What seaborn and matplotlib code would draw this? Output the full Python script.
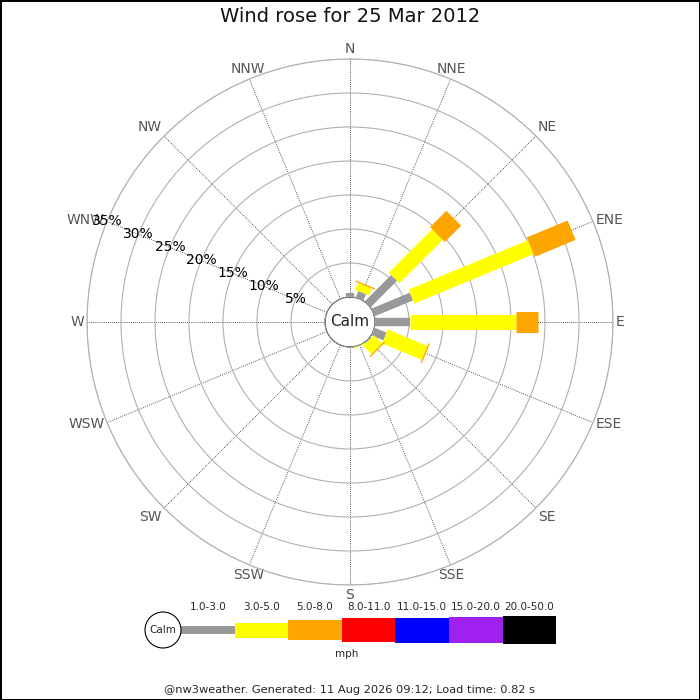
import numpy as np
import pandas as pd
import matplotlib
matplotlib.use('Agg')
import matplotlib.pyplot as plt
from matplotlib.patches import Circle
import seaborn as sns

# 16 compass points, clockwise from north
directions = ['N', 'NNE', 'NE', 'ENE', 'E', 'ESE', 'SE', 'SSE',
              'S', 'SSW', 'SW', 'WSW', 'W', 'WNW', 'NW', 'NNW']
speed_bins = ['1.0-3.0', '3.0-5.0', '5.0-8.0', '8.0-11.0',
              '11.0-15.0', '15.0-20.0', '20.0-50.0']
bin_colors = ['#999999', '#ffff00', '#ffa500', '#ff0000',
              '#0000ff', '#a020f0', '#000000']

# % of time per direction for each speed band
pct_1_3 = [0.6, 1.0, 5.5, 6.1, 5.2, 1.9, 0.2, 0, 0, 0, 0, 0, 0, 0, 0, 0]
pct_3_5 = [0, 1.1, 9.0, 19.0, 15.6, 6.3, 1.7, 0.15, 0, 0, 0, 0, 0, 0, 0, 0]
pct_5_8 = [0, 0.2, 3.4, 6.5, 3.2, 0.2, 0.2, 0, 0, 0, 0, 0, 0, 0, 0, 0]
ring_pcts = [5, 10, 15, 20, 25, 30, 35]

title = 'Wind rose for 25 Mar 2012'
footer = '@nw3weather. Generated: 11 Aug 2026 09:12; Load time: 0.82 s'

# line widths (pt) per speed band
band_lw = [6.0, 10.8, 15.1, 16.6, 18.0, 19.4, 20.2]

sns.set_style('white')
plt.rcParams['font.family'] = ['DejaVu Sans']

# long table of radial segments
rows = []
seg = 0
bands = [pct_1_3, pct_3_5, pct_5_8]
for i, d in enumerate(directions):
    theta = np.deg2rad(i * 22.5)
    start = 0.0
    for j, vals in enumerate(bands):
        v = vals[i]
        if v > 0:
            rows.append({'theta': theta, 'r': start, 'band': speed_bins[j], 'seg': seg})
            rows.append({'theta': theta, 'r': start + v, 'band': speed_bins[j], 'seg': seg})
            seg += 1
        start += v
df = pd.DataFrame(rows)

fig = plt.figure(figsize=(7, 7), dpi=100, edgecolor='black', linewidth=2)

R = 263  # px radius of outer ring
cx, cy = 350, 322
ax = fig.add_axes([(cx - R) / 700, (700 - cy - R) / 700, 2 * R / 700, 2 * R / 700],
                  projection='polar')
ax.set_theta_zero_location('N')
ax.set_theta_direction(-1)
ax.set_ylim(0, 35)
calm_px = 25
ax.set_rorigin(-calm_px * 35 / (R - calm_px))

sns.lineplot(data=df, x='theta', y='r', hue='band', hue_order=speed_bins,
             palette=dict(zip(speed_bins, bin_colors)),
             size='band', size_order=speed_bins,
             sizes=dict(zip(speed_bins, band_lw)),
             units='seg', estimator=None, sort=False, legend=False,
             solid_capstyle='butt', ax=ax, zorder=3)
ax.set_xlabel('')
ax.set_ylabel('')

angles = np.arange(16) * 22.5
ax.set_xticks(np.deg2rad(angles))
ax.set_xticklabels(directions, color='#555555', fontsize=10)
# anchor each compass label on the side facing the rose
for a, lbl in zip(angles, ax.get_xticklabels()):
    s, c = np.sin(np.deg2rad(a)), np.cos(np.deg2rad(a))
    lbl.set_ha('left' if s > 0.5 else ('right' if s < -0.5 else 'center'))
    lbl.set_va('bottom' if c > 0.5 else ('top' if c < -0.5 else 'center'))
ax.set_yticks(ring_pcts)
ax.set_yticklabels([])
ax.xaxis.grid(True, color='#222222', linestyle=(0, (1, 1.5)), linewidth=0.6)
ax.yaxis.grid(True, color='#b0b0b0', linestyle='-', linewidth=0.8)
ax.spines['polar'].set_color('#b0b0b0')
ax.spines['polar'].set_linewidth(0.8)
ax.tick_params(axis='x', pad=-8.5)

for p in ring_pcts:
    ax.text(np.deg2rad(292.5), p, f'{p}%', ha='center', va='center',
            fontsize=10, color='black', zorder=4)

ax.add_patch(Circle((0.5, 0.5), calm_px / (2 * R), transform=ax.transAxes,
                    facecolor='white', edgecolor='#b0b0b0', linewidth=0.8, zorder=5))
ax.text(0.5, 0.5, 'Calm', transform=ax.transAxes, ha='center', va='center',
        fontsize=11, zorder=6)

fig.text(0.5, 1 - 17 / 700, title, ha='center', va='center', fontsize=14, color='#111111')

# legend strip in pixel coordinates
leg = fig.add_axes([0, 0, 1, 1])
leg.set_xlim(0, 700)
leg.set_ylim(700, 0)
leg.axis('off')
seg_w = 53.6
x0 = 181
heights = np.array(band_lw) * 100 / 72
centers = x0 + seg_w * (np.arange(len(speed_bins)) + 0.5)
leg.bar(centers, heights, bottom=630 - heights / 2, width=seg_w,
        color=bin_colors, linewidth=0)
for xc, lab in zip(centers, speed_bins):
    leg.text(xc, 607, lab, ha='center', va='center', fontsize=7.5)
leg.add_patch(Circle((163, 630), 18, facecolor='white', edgecolor='black', linewidth=0.8))
leg.text(163, 630, 'Calm', ha='center', va='center', fontsize=7.5)
leg.text(347, 654, 'mph', ha='center', va='center', fontsize=7.5)
leg.text(350, 690, footer, ha='center', va='center', fontsize=8.2)

fig.savefig('out.png', dpi=100, edgecolor=fig.get_edgecolor())
